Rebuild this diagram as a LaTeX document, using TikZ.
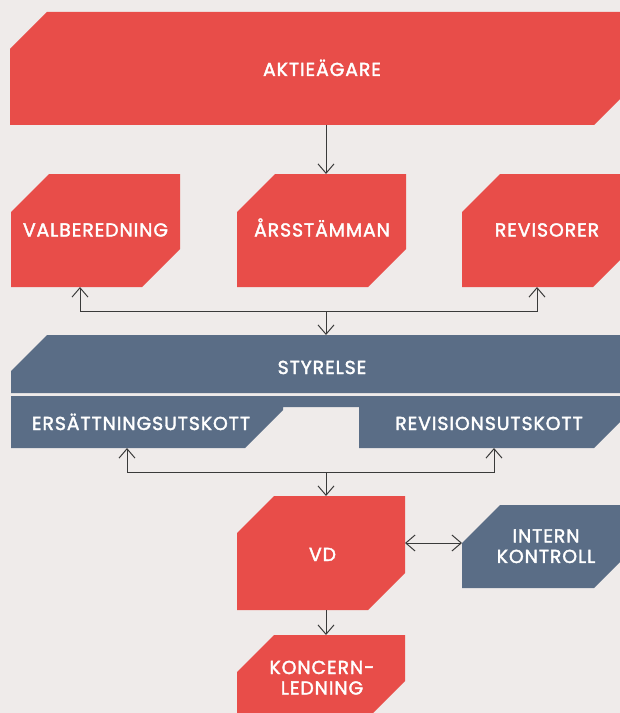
\documentclass[tikz,border=0pt]{standalone}
\usepackage{fontspec}
\newfontfamily\lab{Poppins}[LetterSpace=5,FakeBold=2]
\usetikzlibrary{arrows.meta}
\definecolor{bgc}{HTML}{EFEBEA}
\definecolor{redc}{HTML}{E84D49}
\definecolor{bluec}{HTML}{5A6D86}
\definecolor{linec}{HTML}{3A3A3A}
\tikzset{
  lbl/.style={text=white, font=\lab\fontsize{14.1}{15.4}\selectfont, align=center, inner sep=0pt},
  lblb/.style={lbl, anchor=base},
  arr/.style={draw=linec, line width=0.75pt, -{Straight Barb[length=7pt,width=12pt]}},
  darr/.style={draw=linec, line width=0.75pt, {Straight Barb[length=7pt,width=12pt]}-{Straight Barb[length=7pt,width=12pt]}},
}
% chamfered box: x1,y1,x2,y2,chamfer
\newcommand{\chbox}[6]{\fill[#6] (#1,#2+#5) -- (#1+#5,#2) -- (#3,#2) -- (#3,#4-#5) -- (#3-#5,#4) -- (#1,#4) -- cycle;}
\begin{document}
\begin{tikzpicture}[x=0.75pt,y=-0.75pt]
\useasboundingbox (0,0) rectangle (620,713);
\clip (0,0) rectangle (620,713);
\fill[bgc] (0,0) rectangle (620,713);

% shapes
\chbox{10}{12}{631}{125}{37}{redc}
\chbox{11}{174}{180}{287}{38}{redc}
\chbox{237}{174}{406}{287}{38}{redc}
\chbox{462}{174}{631}{287}{38}{redc}
\fill[bluec] (11,371) -- (47,335) -- (632,335) -- (632,393) -- (11,393) -- cycle;
\fill[bluec] (11,396) -- (632,396) -- (632,410) -- (594,448) -- (359,448) -- (359,407)
  -- (283,407) -- (283,410) -- (245,448) -- (11,448) -- cycle;
\chbox{237}{496}{405}{610}{37}{redc}
\chbox{462}{505}{632}{588}{38}{bluec}
\chbox{237}{635}{405}{718}{37}{redc}

% labels
\node[lblb] (akt) at (322,76) {AKTIEÄGARE};
\node[lblb] (vb) at (95.5,236.5) {VALBEREDNING};
\node[lblb] (ar) at (322,236.5) {ÅRSSTÄMMAN};
\node[lblb] (rev) at (547,236.5) {REVISORER};
\node[lblb] (sty) at (322,374) {STYRELSE};
\node[lblb] (ers) at (141,430) {ERSÄTTNINGSUTSKOTT};
\node[lblb] (revu) at (489,430) {REVISIONSUTSKOTT};
\node[lblb] (vd) at (322.5,561) {VD};
\node[lbl] (ik) at (546,546.2) {INTERN\\KONTROLL};
\node[lbl] (kl) at (322,677.7) {KONCERN-\\LEDNING};

% connector anchors
\coordinate (aktB) at (326,125);
\coordinate (arT) at (326,174);
\coordinate (vbB) at (80,287);
\coordinate (revB) at (537,287);
\coordinate (j1) at (326,311);
\coordinate (styT) at (326,335);
\coordinate (ersB) at (127,448);
\coordinate (revuB) at (494,448);
\coordinate (j2) at (326,472);
\coordinate (vdT) at (326,496);
\coordinate (vdB) at (326,610);
\coordinate (klT) at (326,635);
\coordinate (vdR) at (405,543);
\coordinate (ikL) at (462,543);

% connectors
\draw[arr] (aktB) -- (arT);
\draw[arr] (j1) -| (vbB);
\draw[arr] (j1) -| (revB);
\draw[arr] (j1) -- (styT);
\draw[arr] (j2) -| (ersB);
\draw[arr] (j2) -| (revuB);
\draw[arr] (j2) -- (vdT);
\draw[arr] (vdB) -- (klT);
\draw[darr] (vdR) -- (ikL);
\end{tikzpicture}
\end{document}
